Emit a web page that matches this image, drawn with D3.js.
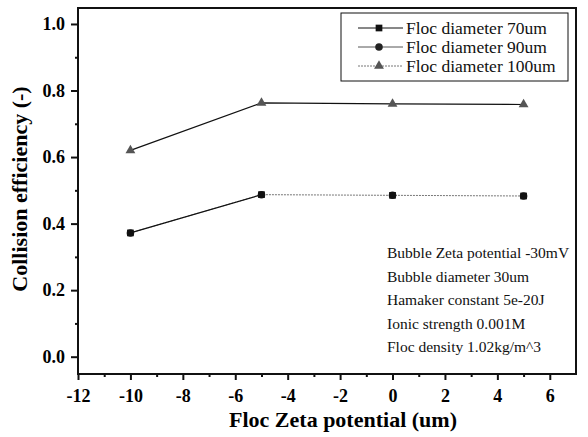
<!DOCTYPE html>
<html>
<head>
<meta charset="utf-8">
<script src="https://cdn.jsdelivr.net/npm/d3@7"></script>
<style>
body { margin: 0; background: #fff; }
text { font-family: "Liberation Serif", "Times New Roman", serif; fill: #111; }
</style>
</head>
<body>
<svg class="chart"></svg>
<script>
var width = 588;
var height = 437;

// data
var zeta = [-10, -5, 0, 5];
var eff70 = [0.372, 0.487, 0.485, 0.483];
var eff90 = [0.372, 0.487, 0.485, 0.483]; // hidden under the squares
var eff100 = [0.62, 0.763, 0.76, 0.758];
var seriesNames = ["Floc diameter 70um", "Floc diameter 90um", "Floc diameter 100um"];
var notes = ["Bubble Zeta potential -30mV", "Bubble diameter 30um", "Hamaker constant 5e-20J",
    "Ionic strength 0.001M", "Floc density 1.02kg/m^3"];
var xTicks = [-12, -10, -8, -6, -4, -2, 0, 2, 4, 6];
var yTicks = [0.0, 0.2, 0.4, 0.6, 0.8, 1.0];

var m = {left: 78, right: 12, top: 8, bottom: 63};

var x = d3.scaleLinear().domain([-12, 7]).range([m.left, width - m.right]);
var y = d3.scaleLinear().domain([-0.052, 1.048]).range([height - m.bottom, m.top]);

var chart = d3.select(".chart")
    .attr("width", width)
    .attr("height", height);

// frame
chart.append("rect")
    .attr("x", x(-12)).attr("y", y(1.048))
    .attr("width", x(7) - x(-12)).attr("height", y(-0.052) - y(1.048))
    .attr("fill", "none").attr("stroke", "#111").attr("stroke-width", 2);

// x axis
var xAxis = d3.axisBottom(x).tickValues(xTicks).tickSize(6).tickPadding(9)
    .tickFormat(function(d) { return d; });
var gx = chart.append("g").attr("transform", "translate(0," + y(-0.052) + ")").call(xAxis);
gx.attr("font-family", null);
gx.select(".domain").remove();
gx.selectAll("line").attr("stroke", "#111").attr("stroke-width", 2);
gx.selectAll("text")
    .style("font-family", "'Liberation Serif', serif")
    .style("font-size", "18px").style("font-weight", "bold").style("fill", "#000");

var xMinor = d3.axisBottom(x).tickValues(d3.range(-11, 7, 2)).tickSize(3).tickFormat("");
var gxm = chart.append("g").attr("transform", "translate(0," + y(-0.052) + ")").call(xMinor);
gxm.select(".domain").remove();
gxm.selectAll("line").attr("stroke", "#111").attr("stroke-width", 2);

// y axis
var yAxis = d3.axisLeft(y).tickValues(yTicks).tickSize(7).tickPadding(6)
    .tickFormat(d3.format(".1f"));
var gy = chart.append("g").attr("transform", "translate(" + x(-12) + ",0)").call(yAxis);
gy.attr("font-family", null);
gy.select(".domain").remove();
gy.selectAll("line").attr("stroke", "#111").attr("stroke-width", 2);
gy.selectAll("text")
    .style("font-family", "'Liberation Serif', serif")
    .style("font-size", "18px").style("font-weight", "bold").style("fill", "#000");

var yMinor = d3.axisLeft(y).tickValues([0.1, 0.3, 0.5, 0.7, 0.9]).tickSize(3).tickFormat("");
var gym = chart.append("g").attr("transform", "translate(" + x(-12) + ",0)").call(yMinor);
gym.select(".domain").remove();
gym.selectAll("line").attr("stroke", "#111").attr("stroke-width", 2);

// axis titles
chart.append("text")
    .attr("x", (x(-12) + x(7)) / 2 + 16).attr("y", 427)
    .attr("text-anchor", "middle").attr("font-size", 22).attr("font-weight", "bold")
    .style("fill", "#000")
    .text("Floc Zeta potential (um)");

chart.append("text")
    .attr("transform", "translate(27,189) rotate(-90)")
    .attr("text-anchor", "middle").attr("font-size", 22).attr("font-weight", "bold")
    .style("fill", "#000")
    .text("Collision efficiency (-)");

// lines
var line = d3.line()
    .x(function(d, i) { return x(zeta[i]); })
    .y(function(d) { return y(d); });

chart.append("path").datum(eff90).attr("d", line)
    .attr("fill", "none").attr("stroke", "#777").attr("stroke-width", 1).attr("stroke-dasharray", "2,1");
chart.append("path").datum(eff70.slice(0, 2)).attr("d", line)
    .attr("fill", "none").attr("stroke", "#111").attr("stroke-width", 1.2);
chart.append("path").datum(eff100).attr("d", line)
    .attr("fill", "none").attr("stroke", "#111").attr("stroke-width", 1.2);

// markers
var sym = [d3.symbolSquare, d3.symbolCircle, d3.symbolTriangle];
var symSize = [45, 45, 42];
var symFill = ["#111", "#222", "#555"];
var allSeries = [eff70, eff90, eff100];

[1, 0, 2].forEach(function(k) {
    chart.append("g").selectAll("path")
        .data(allSeries[k])
        .enter()
        .append("path")
        .attr("transform", function(d, i) { return "translate(" + x(zeta[i]) + "," + y(d) + ")"; })
        .attr("d", d3.symbol().type(sym[k]).size(symSize[k]))
        .attr("fill", symFill[k]);
});

// legend
var lg = chart.append("g");
lg.append("rect")
    .attr("x", 341).attr("y", 13).attr("width", 227).attr("height", 68)
    .attr("fill", "#fff").attr("stroke", "#111").attr("stroke-width", 1);

var legDash = [null, null, "2,1"];
var legColor = ["#111", "#555", "#777"];
seriesNames.forEach(function(name, k) {
    var ly = 28 + k * 19;
    lg.append("line")
        .attr("x1", 358).attr("x2", 403).attr("y1", ly).attr("y2", ly)
        .attr("stroke", legColor[k]).attr("stroke-width", 1)
        .attr("stroke-dasharray", legDash[k]);
    lg.append("path")
        .attr("transform", "translate(379," + ly + ")")
        .attr("d", d3.symbol().type(sym[k]).size(symSize[k]))
        .attr("fill", symFill[k]);
    lg.append("text")
        .attr("x", 406).attr("y", ly + 5.5)
        .attr("font-size", 17.5)
        .text(name);
});

// parameter notes
chart.append("g").selectAll("text")
    .data(notes)
    .enter()
    .append("text")
    .attr("x", 387)
    .attr("y", function(d, i) { return 258 + i * 23.5; })
    .attr("font-size", 15.5)
    .text(function(d) { return d; });
</script>
</body>
</html>
